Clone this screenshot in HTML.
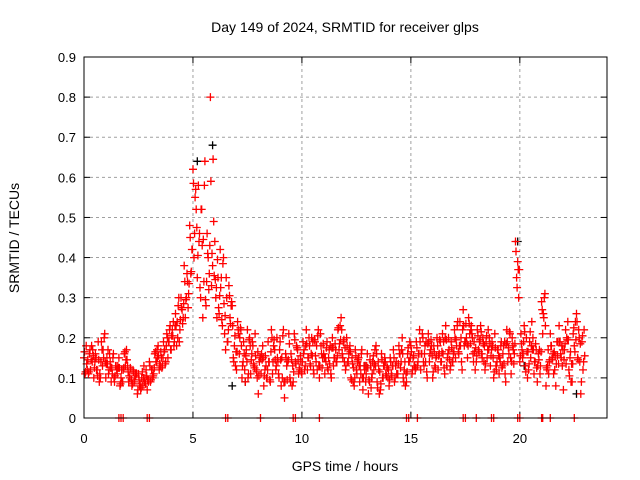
<!DOCTYPE html>
<html><head><meta charset="utf-8"><style>
body{margin:0;background:#fff}
svg{display:block;font-family:"Liberation Sans",sans-serif}
</style></head><body>
<svg id="chart" width="640" height="480">
<text x="345" y="32" font-size="14" text-anchor="middle">Day 149 of 2024, SRMTID for receiver glps</text>
<text x="345" y="471" font-size="14" text-anchor="middle">GPS time / hours</text>
<text transform="translate(19,238) rotate(-90)" font-size="14" text-anchor="middle">SRMTID / TECUs</text>
<g id="grid"></g><g id="ticks"></g><g id="pts"></g>
<rect x="84" y="57" width="523" height="361" fill="none" stroke="#000" stroke-width="1"/>
</svg>
<script>
const xTicks=[0,5,10,15,20];
const yTicks=[0,0.1,0.2,0.3,0.4,0.5,0.6,0.7,0.8,0.9];
const t0=0, dt=0.2;
const p1=[.15,.11,.17,.12,.19,.10,.14,.09,.15,.12,.13,.08,.11,.07,.10,.14,.11,.18,.13,.21,.17,.26,.22,.38,.31,.62,.35,.52,.28,.80,.44,.26,.40,.19,.28,.12,.22,.09,.20,.13,.06,.18,.10,.22,.12,.19,.05,.21,.09,.17,.11,.22,.13,.19,.10,.16,.12,.20,.14,.25,.12,.18,.08,.15,.07,.16,.10,.18,.07,.15,.08,.17,.11,.20,.09,.18,.12,.22,.13,.21,.10,.20,.14,.23,.12,.22,.16,.27,.15,.21,.14,.23,.12,.20,.10,.17,.13,.22,.11,.44,.14,.23,.12,.20,.09,.29,.08,.21,.12,.23,.07,.24,.09,.26,.06];
const p2=[.11,.16,.10,.19,.13,.15,.09,.13,.08,.16,.09,.12,.06,.10,.12,.09,.16,.12,.19,.15,.22,.18,.30,.25,.48,.40,.58,.25,.46,.33,.30,.42,.21,.33,.15,.24,.10,.17,.11,.21,.14,.08,.19,.11,.20,.08,.16,.10,.21,.11,.19,.12,.20,.14,.21,.11,.17,.13,.22,.16,.20,.10,.17,.09,.13,.06,.14,.09,.16,.11,.15,.09,.18,.10,.16,.11,.19,.12,.18,.14,.18,.12,.21,.13,.19,.15,.24,.18,.25,.16,.22,.16,.19,.13,.21,.11,.18,.14,.20,.35,.21,.13,.19,.11,.16,.21,.12,.18,.08,.19,.17,.12,.21,.15,.19];
const p3=[.18,.12,.14,.09,.15,.17,.11,.12,.10,.13,.10,.09,.11,.08,.07,.12,.14,.13,.17,.19,.24,.20,.27,.30,.36,.55,.46,.34,.40,.38,.25,.35,.17,.25,.18,.21,.14,.22,.16,.12,.15,.12,.14,.18,.14,.10,.13,.16,.14,.12,.17,.15,.19,.12,.16,.14,.18,.15,.17,.19,.14,.15,.12,.11,.13,.09,.12,.14,.10,.13,.11,.13,.16,.12,.14,.15,.13,.16,.19,.17,.13,.16,.19,.16,.14,.18,.20,.19,.21,.19,.17,.20,.15,.17,.13,.14,.19,.16,.17,.39,.17,.20,.15,.14,.17,.25,.17,.15,.19,.15,.22,.15,.18,.22,.12];
const p4=[.12,.18,.15,.10,.21,.12,.16,.13,.09,.17,.12,.11,.08,.13,.09,.10,.17,.15,.14,.23,.19,.30,.25,.34,.42,.52,.30,.64,.36,.49,.35,.23,.30,.28,.13,.20,.16,.11,.18,.10,.16,.13,.09,.17,.10,.22,.14,.08,.18,.14,.13,.18,.11,.22,.15,.19,.10,.17,.23,.14,.16,.09,.14,.17,.11,.13,.17,.06,.13,.10,.13,.11,.14,.08,.19,.13,.16,.20,.10,.18,.15,.19,.11,.17,.16,.24,.12,.20,.22,.12,.19,.14,.22,.18,.14,.19,.09,.21,.16,.30,.16,.10,.24,.17,.13,.31,.14,.11,.19,.13,.20,.09,.24,.14,.22];
const zeroTimes=[1.6,1.7,1.8,2.9,3.0,6.5,6.6,8.1,9.6,9.7,10.8,14.8,14.9,15.3,17.4,17.5,18.0,18.7,18.8,19.9,20.0,21.0,21.05,21.4,22.5];
const blackT=[5.2,5.9,6.8,7.4,12.9,19.9,20.2,22.6];
const blackV=[.64,.68,.08,.09,.13,.44,.13,.06];
const X=t=>84+t*523/24, Y=v=>418-v*361/0.9;
const NS='http://www.w3.org/2000/svg';
const grid=document.getElementById('grid'),ticks=document.getElementById('ticks'),pts=document.getElementById('pts');
function mk(tag,at,parent){const e=document.createElementNS(NS,tag);for(const k in at)e.setAttribute(k,at[k]);parent.appendChild(e);return e;}
xTicks.forEach(t=>{const x=X(t);
 if(t>0){const g=mk('line',{x1:x,x2:x,y1:57,y2:418,stroke:'#a0a0a0','stroke-dasharray':'3,3'},grid);
 
 }
 const l=mk('text',{x:x,y:443,'font-size':13,'text-anchor':'middle'},ticks);l.textContent=t;
 
 
 mk('line',{x1:x,x2:x,y1:418,y2:412,stroke:'#000'},ticks);mk('line',{x1:x,x2:x,y1:57,y2:63,stroke:'#000'},ticks);});
yTicks.forEach(v=>{const y=Y(v);
 if(v>0&&v<0.9){const g=mk('line',{x1:84,x2:607,y1:y,y2:y,stroke:'#a0a0a0','stroke-dasharray':'3,3'},grid);
 
 }
 const l=mk('text',{x:76,y:y+5,'font-size':13,'text-anchor':'end'},ticks);l.textContent=(v===0?'0':v.toFixed(1));
 
 
 mk('line',{x1:84,x2:90,y1:y,y2:y,stroke:'#000'},ticks);mk('line',{x1:607,x2:601,y1:y,y2:y,stroke:'#000'},ticks);});
let dR='',dK='';
const plus=(t,v)=>{const x=X(t),y=Y(v);return `M${(x-4).toFixed(1)},${y.toFixed(1)}h8M${x.toFixed(1)},${(y-4).toFixed(1)}v8`;};
blackT.forEach((t,i)=>{dK+=plus(t,blackV[i]);});
[[p1,0],[p2,0.05],[p3,0.1],[p4,0.15]].forEach(([arr,off])=>{arr.forEach((v,i)=>{dR+=plus(t0+i*dt+off,v);});});
// extra density: points between pairs of samples
[[p1,p3,0.025],[p2,p4,0.075],[p1,p4,0.125],[p3,p2,0.175]].forEach(([a,b,off])=>{a.forEach((v,i)=>{dR+=plus(t0+i*dt+off,(v+b[i])/2);});});
zeroTimes.forEach(t=>{dR+=plus(t,0);});
const pk=mk('path',{d:dK,stroke:'#000','stroke-width':1.3,fill:'none'},pts);


const pr=mk('path',{d:dR,stroke:'#f00','stroke-width':1.3,fill:'none'},pts);


</script>
</body></html>
